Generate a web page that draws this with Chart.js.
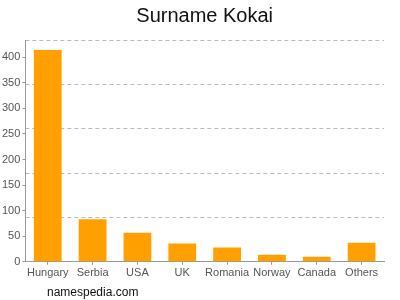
<!DOCTYPE html>
<html>
<head>
<meta charset="utf-8">
<script src="https://cdn.jsdelivr.net/npm/chart.js@4"></script>
<style>
  html, body { margin: 0; padding: 0; background: #fff; }
  #wrap { position: relative; width: 400px; height: 300px; }
  #footer { position: absolute; left: 47px; top: 285px; font: 12px "Liberation Sans", Arial, sans-serif; color: #111; }
</style>
</head>
<body>
<div id="wrap">
  <canvas id="chartCanvas" width="400" height="300"></canvas>
  <div id="footer">namespedia.com</div>
</div>
<script>
"use strict";

const countries = ['Hungary', 'Serbia', 'USA', 'UK', 'Romania', 'Norway', 'Canada', 'Others'];
const counts = [414, 83, 57, 36, 28, 14, 10, 37];
const yTickStep = 50;
const yMax = 433.5;
const gridLines = 5;

const ctx = document.getElementById('chartCanvas');

const data = {
    labels: countries,
    datasets: [{
        label: 'Kokai',
        data: counts,
        backgroundColor: '#ffa000',
        barPercentage: 0.62,
        categoryPercentage: 1.0,
        yAxisID: 'y'
    }]
};

const config = {
    type: 'bar',
    data: data,
    options: {
        responsive: false,
        animation: false,
        layout: { padding: { left: 0, right: 16, top: 0, bottom: 18 } },
        plugins: {
            legend: { display: false },
            tooltip: { enabled: false },
            title: {
                display: true,
                fullSize: false,
                text: 'Surname Kokai',
                color: '#111',
                font: { family: '"Liberation Sans", Arial, sans-serif', size: 20, weight: 'normal' },
                padding: { top: 4, bottom: 12 }
            }
        },
        scales: {
            x: {
                grid: { drawOnChartArea: false, drawTicks: true, tickLength: 3, color: '#999', offset: false },
                border: { display: true, color: '#999' },
                ticks: {
                    color: '#555',
                    font: { family: '"Liberation Sans", Arial, sans-serif', size: 11 },
                    padding: 2,
                    maxRotation: 0,
                    autoSkip: false
                }
            },
            y: {
                min: 0,
                max: yMax,
                grid: { drawOnChartArea: false, drawTicks: true, tickLength: 3, color: '#999' },
                border: { display: true, color: '#999' },
                afterBuildTicks: function (scale) {
                    scale.ticks = scale.ticks.filter(t => t.value % yTickStep === 0);
                },
                ticks: {
                    stepSize: yTickStep,
                    color: '#555',
                    font: { family: '"Liberation Sans", Arial, sans-serif', size: 11 },
                    padding: 2
                }
            },
            y2: {
                position: 'right',
                min: 0,
                max: gridLines,
                grid: { drawTicks: false, color: '#bbb', tickLength: 0 },
                border: { display: false, dash: [4, 3] },
                ticks: { display: false, stepSize: 1 }
            }
        }
    }
};

new Chart(ctx, config);
</script>
</body>
</html>
